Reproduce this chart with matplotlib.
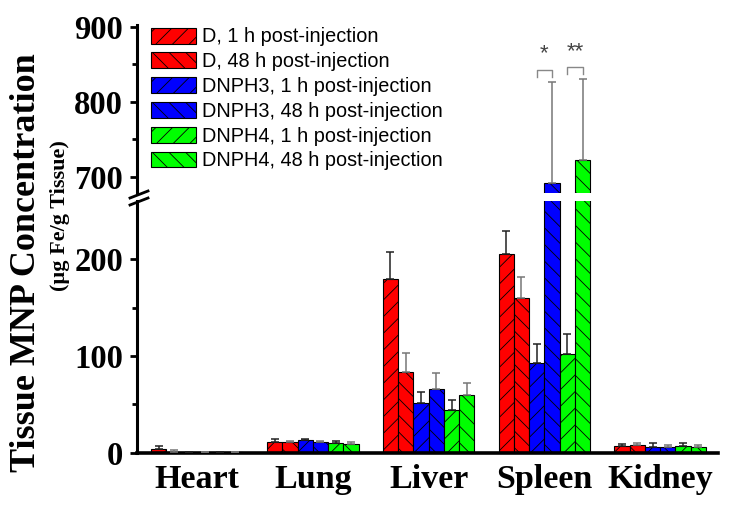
import matplotlib.pyplot as plt
import numpy as np
from matplotlib.lines import Line2D
from matplotlib.patches import Patch

organs = ['Heart', 'Lung', 'Liver', 'Spleen', 'Kidney']
labels = ['D, 1 h post-injection', 'D, 48 h post-injection',
          'DNPH3, 1 h post-injection', 'DNPH3, 48 h post-injection',
          'DNPH4, 1 h post-injection', 'DNPH4, 48 h post-injection']

# ug Fe / g tissue (upper error only)
d_1h = [3.5, 11.4, 179.6, 205.5, 7.0]
d_1h_err = [3.0, 2.5, 27.6, 23.5, 2.0]
d_48h = [0.8, 10.8, 83.8, 160.3, 7.5]
d_48h_err = [1.5, 1.3, 19.0, 21.7, 2.5]
p3_1h = [0.5, 13.1, 51.1, 93.0, 6.0]
p3_1h_err = [0.3, 1.4, 12.0, 19.0, 3.5]
p3_48h = [0.5, 11.1, 65.6, 692.0, 6.0]
p3_48h_err = [0.3, 1.3, 17.1, 134.0, 2.0]
p4_1h = [0.2, 10.3, 44.5, 102.0, 7.0]
p4_1h_err = [0.1, 1.8, 10.0, 20.4, 2.5]
p4_48h = [0.5, 9.3, 59.4, 722.0, 5.5]
p4_48h_err = [0.3, 2.1, 12.4, 108.5, 2.0]

series = [d_1h, d_48h, p3_1h, p3_48h, p4_1h, p4_48h]
errors = [d_1h_err, d_48h_err, p3_1h_err, p3_48h_err, p4_1h_err, p4_48h_err]
colors = ['#ff0000', '#ff0000', '#0000ff', '#0000ff', '#00ff00', '#00ff00']
hatches = ['//', '\\\\', '//', '\\\\', '//', '\\\\']
ecolors = ['#222222', '#777777', '#222222', '#777777', '#222222', '#777777']

plt.rcParams['hatch.linewidth'] = 0.6
serif = 'Liberation Serif'
sans = 'Liberation Sans'

fig = plt.figure(figsize=(7.29, 5.05), dpi=100)
ax_lo = fig.add_axes([0.188, 0.1036, 0.797, 0.499])
ax_hi = fig.add_axes([0.188, 0.6172, 0.797, 0.3333], sharex=ax_lo)

x = np.arange(1, len(organs) + 1)
w = 0.132

for ax in (ax_lo, ax_hi):
    for i in range(6):
        pos = x + (i - 2.5) * w
        ax.bar(pos, series[i], w, color=colors[i], edgecolor='black',
               linewidth=0.8, hatch=hatches[i], zorder=2)
        ax.errorbar(pos, series[i], yerr=[np.zeros(5), errors[i]], fmt='none',
                    ecolor=ecolors[i], elinewidth=1.1, capsize=3, capthick=1.1,
                    zorder=3)
    ax.spines['top'].set_visible(False)
    ax.spines['right'].set_visible(False)
    ax.spines['left'].set_linewidth(2.2)
    ax.tick_params(axis='y', which='major', direction='out', length=5, width=2,
                   pad=5)
    ax.tick_params(axis='y', which='minor', direction='out', length=3.5, width=2)

ax_lo.set_xlim(0.482, 5.5)
ax_lo.set_ylim(0, 260.6)
ax_lo.set_yticks([0, 100, 200])
ax_lo.set_yticks([50, 150], minor=True)
ax_lo.spines['bottom'].set_linewidth(2.6)
ax_lo.set_xticks(x)
ax_lo.set_xticklabels(organs, fontfamily=serif, fontweight='bold', fontsize=24.5)
ax_lo.tick_params(axis='x', length=0, pad=8)
ax_lo.set_yticklabels(['0', '100', '200'], fontfamily=serif,
                      fontweight='bold', fontsize=23.5)

ax_hi.set_ylim(678, 902)
ax_hi.set_yticks([700, 800, 900])
ax_hi.set_yticks([750, 850], minor=True)
ax_hi.set_yticklabels(['700', '800', '900'], fontfamily=serif,
                      fontweight='bold', fontsize=23.5)
ax_hi.spines['bottom'].set_visible(False)
ax_hi.tick_params(axis='x', which='both', bottom=False, labelbottom=False)

# significance brackets on spleen
sp = 4
gray = '#888888'
for a, b, top, drop, star_y, star in [(2, 3, 842, 9.5, 850, '*'),
                                      (4, 5, 846, 9, 853, '**')]:
    xa = sp + (a - 2.5) * w
    xb = sp + (b - 2.5) * w
    ax_hi.plot([xa, xa, xb, xb], [top - drop, top, top, top - drop],
               color=gray, lw=1.0, clip_on=False)
    ax_hi.text((xa + xb) / 2, star_y, star, ha='center', va='bottom',
               fontsize=16, color='#444444', fontfamily=sans)

# break marks on the y axis
for dy in (0, 7):
    fig.add_artist(Line2D([130 / 729, 148 / 729],
                          [1 - (198 + dy) / 505, 1 - (191 + dy) / 505],
                          color='black', lw=2.0))

handles = [Patch(facecolor=colors[i], edgecolor='black', linewidth=0.8,
                 hatch=hatches[i]) for i in range(6)]
fig.legend(handles, labels, loc='upper left',
           bbox_to_anchor=(151 / 729, 1 - 27.5 / 505),
           bbox_transform=fig.transFigure, frameon=False, borderpad=0,
           borderaxespad=0, handlelength=2.26, handleheight=0.85,
           handletextpad=0.3, labelspacing=0.29,
           prop={'family': sans, 'size': 14.3})

fig.text(27 / 729, 1 - 263 / 505, 'Tissue MNP Concentration', rotation=90,
         ha='center', va='center', fontfamily=serif, fontweight='bold',
         fontsize=26)
fig.text(60 / 729, 1 - 216 / 505, '(\u00b5g Fe/g Tissue)', rotation=90,
         ha='center', va='center', fontfamily=serif, fontweight='bold',
         fontsize=16)

fig.savefig('out.png', dpi=100)
